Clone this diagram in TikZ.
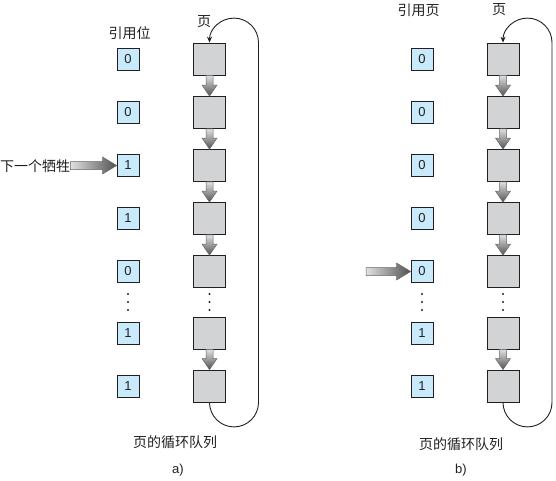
\documentclass[tikz,border=0pt]{standalone}
\usepackage{fontspec}
\setmainfont{Liberation Sans}
\newfontfamily\cjk{Noto Sans CJK SC}
\usetikzlibrary{arrows.meta, calc}
\definecolor{bitblue}{RGB}{200,234,250}
\definecolor{pagegray}{RGB}{210,211,213}
\definecolor{ink}{RGB}{35,31,32}
\tikzset{
    bitbox/.style={draw=ink, fill=bitblue, line width=0.8pt, minimum size=22pt, inner sep=0pt, text=ink, font=\fontsize{13}{15}\selectfont},
    pagebox/.style={draw=ink, fill=pagegray, line width=0.8pt, minimum size=32pt, inner sep=0pt},
    txt/.style={inner sep=0pt, text=ink, font=\cjk\fontsize{14}{16}\selectfont},
    fatdown/.style={draw=black!60, line width=0.5pt, top color=black!12, bottom color=black!68},
    fatright/.style={draw=black!60, line width=0.5pt, left color=black!12, right color=black!68},
    loopline/.style={draw=ink, line width=0.9pt, -{Stealth[length=6pt, width=5pt]}}
}
\newcommand{\downarr}[2]{\shadedraw[fatdown] let \p1=(#1.south), \p2=(#2.north) in
    (\x1-3.5pt,\y1) -- (\x1+3.5pt,\y1) -- (\x1+3.5pt,\y2+11pt) -- (\x1+7.5pt,\y2+11pt)
    -- (\x1,\y2) -- (\x1-7.5pt,\y2+11pt) -- (\x1-3.5pt,\y2+11pt) -- cycle;}
\newcommand{\rightarr}[2]{\shadedraw[fatright] let \p1=(#1), \p2=(#2.west) in
    (\x1,\y2+4pt) -- (\x2-14pt,\y2+4pt) -- (\x2-14pt,\y2+8.5pt) -- (\x2,\y2)
    -- (\x2-14pt,\y2-8.5pt) -- (\x2-14pt,\y2-4pt) -- (\x1,\y2-4pt) -- cycle;}

\begin{document}
\begin{tikzpicture}[x=1pt, y=-1pt]
            \useasboundingbox (0,0) rectangle (556,480);

            % a) reference bits and pages
            \node[txt] (bitsa) at (129.5,33) {引用位};
            \node[txt] (pagesa) at (204,22) {页};
            \node[bitbox] (a1) at (128,59) {0};
            \node[bitbox] (a2) at (128,112.5) {0};
            \node[bitbox] (a3) at (128,165.5) {1};
            \node[bitbox] (a4) at (128,218.5) {1};
            \node[bitbox] (a5) at (128,271.5) {0};
            \node[bitbox] (a6) at (128,333) {1};
            \node[bitbox] (a7) at (128,386) {1};
            \node[pagebox] (pa1) at (209.5,59) {};
            \node[pagebox] (pa2) at (209.5,112.5) {};
            \node[pagebox] (pa3) at (209.5,165.5) {};
            \node[pagebox] (pa4) at (209.5,218.5) {};
            \node[pagebox] (pa5) at (209.5,271.5) {};
            \node[pagebox] (pa6) at (209.5,333) {};
            \node[pagebox] (pa7) at (209.5,386) {};
            \node[txt, anchor=west] (victim) at (0,166) {下一个牺牲};
            \node[txt] (queuea) at (175,442) {页的循环队列};
            \node[txt, font=\fontsize{13}{15}\selectfont] (capa) at (178,470) {a)};

            % b) reference bits and pages
            \node[txt] (bitsb) at (418.5,10) {引用页};
            \node[txt] (pagesb) at (499,10) {页};
            \node[bitbox] (b1) at (422,59) {0};
            \node[bitbox] (b2) at (422,112.5) {0};
            \node[bitbox] (b3) at (422,165.5) {0};
            \node[bitbox] (b4) at (422,218.5) {0};
            \node[bitbox] (b5) at (422,271.5) {0};
            \node[bitbox] (b6) at (422,333) {1};
            \node[bitbox] (b7) at (422,386) {1};
            \node[pagebox] (pb1) at (503,59) {};
            \node[pagebox] (pb2) at (503,112.5) {};
            \node[pagebox] (pb3) at (503,165.5) {};
            \node[pagebox] (pb4) at (503,218.5) {};
            \node[pagebox] (pb5) at (503,271.5) {};
            \node[pagebox] (pb6) at (503,333) {};
            \node[pagebox] (pb7) at (503,386) {};
            \coordinate (ptr) at (366,271.5);
            \node[txt] (queueb) at (461,444) {页的循环队列};
            \node[txt, font=\fontsize{13}{15}\selectfont] (capb) at (461,470) {b)};

            \foreach \x in {128,209.5,422,503}
                \foreach \y in {294,302,310}
                    \fill[ink] (\x,\y) circle[radius=1.2pt];

            \downarr{pa1}{pa2} \downarr{pa2}{pa3} \downarr{pa3}{pa4}
            \downarr{pa4}{pa5} \downarr{pa6}{pa7}
            \downarr{pb1}{pb2} \downarr{pb2}{pb3} \downarr{pb3}{pb4}
            \downarr{pb4}{pb5} \downarr{pb6}{pb7}
            \rightarr{victim.east}{a3}
            \rightarr{ptr}{b5}

            \draw[loopline] (pa7.south) arc[start angle=180, end angle=360, radius=24.5pt]
                -- ($(pa1.north)+(49,0)$) arc[start angle=0, end angle=180, radius=24.5pt];
            \draw[loopline] (pb7.south) arc[start angle=180, end angle=360, radius=24.5pt]
                -- ($(pb1.north)+(49,0)$) arc[start angle=0, end angle=180, radius=24.5pt];
        \end{tikzpicture}
\end{document}
